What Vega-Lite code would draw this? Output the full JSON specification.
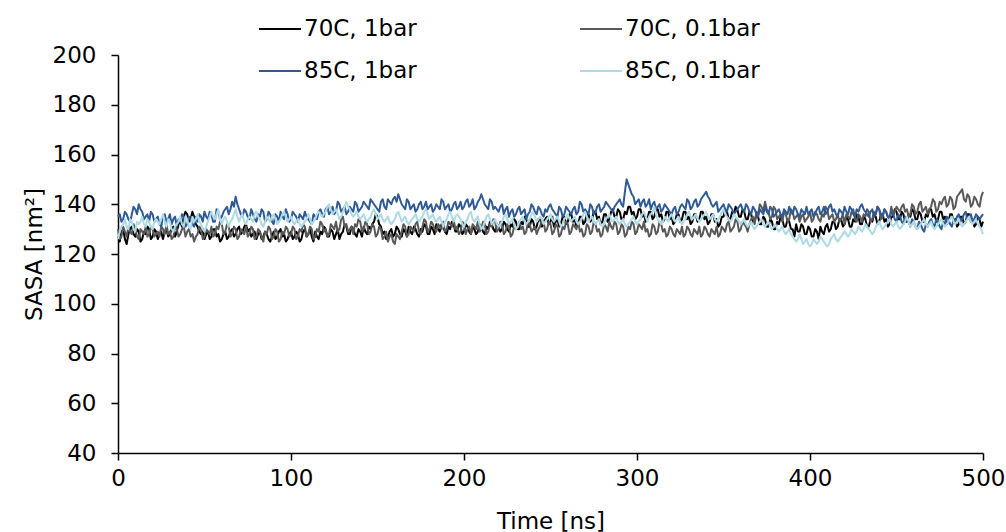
{
"$schema":"https://vega.github.io/schema/vega-lite/v6.json",
"width":865,"height":398,
"autosize":{"type":"none"},
"padding":{"left":118,"top":55,"right":23,"bottom":79},
"background":"white",
"config":{"view":{"stroke":null},"font":"DejaVu Sans",
"axis":{"labelFont":"DejaVu Sans","titleFont":"DejaVu Sans","labelFontSize":23,"titleFontSize":23,"labelColor":"#000","titleColor":"#000","titleFontWeight":"normal","domainColor":"#000","tickColor":"#000","grid":false,"tickSize":7,"domainWidth":1.5,"tickWidth":1.5,"labelFlush":false}},
"datasets":{
"a":[{"t":0,"v":127},{"t":2,"v":129},{"t":4,"v":126},{"t":6,"v":128},{"t":8,"v":131},{"t":10,"v":127},{"t":12,"v":129},{"t":14,"v":126},{"t":16,"v":128},{"t":18,"v":130},
{"t":20,"v":127},{"t":22,"v":129},{"t":24,"v":128},{"t":26,"v":126},{"t":28,"v":130},{"t":30,"v":128},{"t":32,"v":131},{"t":34,"v":129},{"t":36,"v":133},{"t":38,"v":135},
{"t":40,"v":136},{"t":42,"v":134},{"t":44,"v":135},{"t":46,"v":131},{"t":48,"v":128},{"t":50,"v":126},{"t":52,"v":129},{"t":54,"v":127},{"t":56,"v":130},{"t":58,"v":128},
{"t":60,"v":126},{"t":62,"v":129},{"t":64,"v":127},{"t":66,"v":130},{"t":68,"v":128},{"t":70,"v":131},{"t":72,"v":129},{"t":74,"v":132},{"t":76,"v":130},{"t":78,"v":128},
{"t":80,"v":126},{"t":82,"v":129},{"t":84,"v":127},{"t":86,"v":128},{"t":88,"v":125},{"t":90,"v":129},{"t":92,"v":127},{"t":94,"v":130},{"t":96,"v":128},{"t":98,"v":126},
{"t":100,"v":129},{"t":102,"v":127},{"t":104,"v":128},{"t":106,"v":126},{"t":108,"v":130},{"t":110,"v":128},{"t":112,"v":127},{"t":114,"v":129},{"t":116,"v":126},{"t":118,"v":128},
{"t":120,"v":130},{"t":122,"v":127},{"t":124,"v":129},{"t":126,"v":128},{"t":128,"v":126},{"t":130,"v":129},{"t":132,"v":131},{"t":134,"v":128},{"t":136,"v":130},{"t":138,"v":127},
{"t":140,"v":129},{"t":142,"v":131},{"t":144,"v":128},{"t":146,"v":130},{"t":148,"v":133},{"t":150,"v":135},{"t":152,"v":131},{"t":154,"v":129},{"t":156,"v":127},{"t":158,"v":130},
{"t":160,"v":128},{"t":162,"v":130},{"t":164,"v":127},{"t":166,"v":129},{"t":168,"v":131},{"t":170,"v":128},{"t":172,"v":130},{"t":174,"v":127},{"t":176,"v":129},{"t":178,"v":131},
{"t":180,"v":128},{"t":182,"v":130},{"t":184,"v":132},{"t":186,"v":129},{"t":188,"v":131},{"t":190,"v":128},{"t":192,"v":130},{"t":194,"v":132},{"t":196,"v":129},{"t":198,"v":131},
{"t":200,"v":129},{"t":202,"v":131},{"t":204,"v":128},{"t":206,"v":130},{"t":208,"v":129},{"t":210,"v":131},{"t":212,"v":128},{"t":214,"v":130},{"t":216,"v":132},{"t":218,"v":129},
{"t":220,"v":131},{"t":222,"v":130},{"t":224,"v":132},{"t":226,"v":129},{"t":228,"v":131},{"t":230,"v":133},{"t":232,"v":130},{"t":234,"v":132},{"t":236,"v":134},{"t":238,"v":131},
{"t":240,"v":133},{"t":242,"v":131},{"t":244,"v":134},{"t":246,"v":132},{"t":248,"v":135},{"t":250,"v":133},{"t":252,"v":131},{"t":254,"v":134},{"t":256,"v":132},{"t":258,"v":135},
{"t":260,"v":133},{"t":262,"v":136},{"t":264,"v":134},{"t":266,"v":132},{"t":268,"v":135},{"t":270,"v":133},{"t":272,"v":136},{"t":274,"v":134},{"t":276,"v":137},{"t":278,"v":135},
{"t":280,"v":133},{"t":282,"v":136},{"t":284,"v":134},{"t":286,"v":138},{"t":288,"v":135},{"t":290,"v":137},{"t":292,"v":134},{"t":294,"v":136},{"t":296,"v":139},{"t":298,"v":137},
{"t":300,"v":135},{"t":302,"v":138},{"t":304,"v":136},{"t":306,"v":134},{"t":308,"v":137},{"t":310,"v":135},{"t":312,"v":138},{"t":314,"v":136},{"t":316,"v":134},{"t":318,"v":137},
{"t":320,"v":135},{"t":322,"v":133},{"t":324,"v":136},{"t":326,"v":134},{"t":328,"v":137},{"t":330,"v":135},{"t":332,"v":133},{"t":334,"v":136},{"t":336,"v":134},{"t":338,"v":137},
{"t":340,"v":135},{"t":342,"v":133},{"t":344,"v":136},{"t":346,"v":134},{"t":348,"v":132},{"t":350,"v":135},{"t":352,"v":137},{"t":354,"v":134},{"t":356,"v":136},{"t":358,"v":138},
{"t":360,"v":135},{"t":362,"v":137},{"t":364,"v":134},{"t":366,"v":136},{"t":368,"v":133},{"t":370,"v":135},{"t":372,"v":132},{"t":374,"v":134},{"t":376,"v":131},{"t":378,"v":133},
{"t":380,"v":130},{"t":382,"v":132},{"t":384,"v":134},{"t":386,"v":131},{"t":388,"v":133},{"t":390,"v":130},{"t":392,"v":132},{"t":394,"v":129},{"t":396,"v":131},{"t":398,"v":128},
{"t":400,"v":130},{"t":402,"v":127},{"t":404,"v":129},{"t":406,"v":131},{"t":408,"v":128},{"t":410,"v":132},{"t":412,"v":130},{"t":414,"v":133},{"t":416,"v":131},{"t":418,"v":134},
{"t":420,"v":132},{"t":422,"v":134},{"t":424,"v":131},{"t":426,"v":133},{"t":428,"v":135},{"t":430,"v":132},{"t":432,"v":134},{"t":434,"v":131},{"t":436,"v":133},{"t":438,"v":135},
{"t":440,"v":133},{"t":442,"v":136},{"t":444,"v":134},{"t":446,"v":132},{"t":448,"v":135},{"t":450,"v":137},{"t":452,"v":134},{"t":454,"v":136},{"t":456,"v":133},{"t":458,"v":135},
{"t":460,"v":137},{"t":462,"v":134},{"t":464,"v":136},{"t":466,"v":133},{"t":468,"v":135},{"t":470,"v":138},{"t":472,"v":136},{"t":474,"v":134},{"t":476,"v":137},{"t":478,"v":135},
{"t":480,"v":133},{"t":482,"v":136},{"t":484,"v":134},{"t":486,"v":132},{"t":488,"v":135},{"t":490,"v":133},{"t":492,"v":136},{"t":494,"v":134},{"t":496,"v":132},{"t":498,"v":134},{"t":500,"v":133},
{"t":1,"v":125},{"t":3,"v":130},{"t":5,"v":124},{"t":7,"v":130},{"t":9,"v":128},{"t":11,"v":130},{"t":13,"v":125},{"t":15,"v":129},{"t":17,"v":131},{"t":19,"v":126},
{"t":21,"v":130},{"t":23,"v":126},{"t":25,"v":129},{"t":27,"v":129},{"t":29,"v":127},{"t":31,"v":130},{"t":33,"v":127},{"t":35,"v":132},{"t":37,"v":131},{"t":39,"v":137},
{"t":41,"v":133},{"t":43,"v":137},{"t":45,"v":132},{"t":47,"v":129},{"t":49,"v":130},{"t":51,"v":128},{"t":53,"v":126},{"t":55,"v":130},{"t":57,"v":127},{"t":59,"v":125},
{"t":61,"v":128},{"t":63,"v":126},{"t":65,"v":129},{"t":67,"v":127},{"t":69,"v":130},{"t":71,"v":128},{"t":73,"v":131},{"t":75,"v":129},{"t":77,"v":127},{"t":79,"v":129},
{"t":81,"v":128},{"t":83,"v":126},{"t":85,"v":129},{"t":87,"v":126},{"t":89,"v":127},{"t":91,"v":126},{"t":93,"v":129},{"t":95,"v":127},{"t":97,"v":125},{"t":99,"v":128},
{"t":101,"v":126},{"t":103,"v":129},{"t":105,"v":125},{"t":107,"v":129},{"t":109,"v":127},{"t":111,"v":130},{"t":113,"v":125},{"t":115,"v":127},{"t":117,"v":129},{"t":119,"v":131},
{"t":121,"v":127},{"t":123,"v":130},{"t":125,"v":126},{"t":127,"v":130},{"t":129,"v":128},{"t":131,"v":132},{"t":133,"v":128},{"t":135,"v":131},{"t":137,"v":128},{"t":139,"v":130},
{"t":141,"v":127},{"t":143,"v":129},{"t":145,"v":131},{"t":147,"v":132},{"t":149,"v":136},{"t":151,"v":132},{"t":153,"v":128},{"t":155,"v":126},{"t":157,"v":129},{"t":159,"v":127},
{"t":161,"v":131},{"t":163,"v":128},{"t":165,"v":130},{"t":167,"v":127},{"t":169,"v":129},{"t":171,"v":131},{"t":173,"v":128},{"t":175,"v":130},{"t":177,"v":132},{"t":179,"v":128},
{"t":181,"v":131},{"t":183,"v":128},{"t":185,"v":130},{"t":187,"v":132},{"t":189,"v":129},{"t":191,"v":131},{"t":193,"v":133},{"t":195,"v":129},{"t":197,"v":132},{"t":199,"v":128},
{"t":201,"v":132},{"t":203,"v":129},{"t":205,"v":131},{"t":207,"v":128},{"t":209,"v":132},{"t":211,"v":129},{"t":213,"v":131},{"t":215,"v":133},{"t":217,"v":130},{"t":219,"v":132},
{"t":221,"v":129},{"t":223,"v":133},{"t":225,"v":130},{"t":227,"v":132},{"t":229,"v":134},{"t":231,"v":130},{"t":233,"v":133},{"t":235,"v":135},{"t":237,"v":131},{"t":239,"v":134},
{"t":241,"v":130},{"t":243,"v":134},{"t":245,"v":131},{"t":247,"v":134},{"t":249,"v":132},{"t":251,"v":135},{"t":253,"v":133},{"t":255,"v":131},{"t":257,"v":135},{"t":259,"v":132},
{"t":261,"v":136},{"t":263,"v":133},{"t":265,"v":131},{"t":267,"v":135},{"t":269,"v":132},{"t":271,"v":136},{"t":273,"v":133},{"t":275,"v":137},{"t":277,"v":134},{"t":279,"v":132},
{"t":281,"v":136},{"t":283,"v":133},{"t":285,"v":137},{"t":287,"v":135},{"t":289,"v":138},{"t":291,"v":134},{"t":293,"v":137},{"t":295,"v":139},{"t":297,"v":136},{"t":299,"v":134},
{"t":301,"v":138},{"t":303,"v":135},{"t":305,"v":133},{"t":307,"v":137},{"t":309,"v":134},{"t":311,"v":138},{"t":313,"v":135},{"t":315,"v":133},{"t":317,"v":137},{"t":319,"v":134},
{"t":321,"v":132},{"t":323,"v":136},{"t":325,"v":133},{"t":327,"v":137},{"t":329,"v":134},{"t":331,"v":132},{"t":333,"v":136},{"t":335,"v":133},{"t":337,"v":137},{"t":339,"v":134},
{"t":341,"v":132},{"t":343,"v":136},{"t":345,"v":133},{"t":347,"v":131},{"t":349,"v":135},{"t":351,"v":138},{"t":353,"v":134},{"t":355,"v":137},{"t":357,"v":139},{"t":359,"v":135},
{"t":361,"v":138},{"t":363,"v":134},{"t":365,"v":137},{"t":367,"v":133},{"t":369,"v":136},{"t":371,"v":132},{"t":373,"v":135},{"t":375,"v":131},{"t":377,"v":134},{"t":379,"v":130},
{"t":381,"v":133},{"t":383,"v":135},{"t":385,"v":131},{"t":387,"v":134},{"t":389,"v":130},{"t":391,"v":127},{"t":393,"v":129},{"t":395,"v":132},{"t":397,"v":128},{"t":399,"v":131},
{"t":401,"v":127},{"t":403,"v":130},{"t":405,"v":126},{"t":407,"v":129},{"t":409,"v":131},{"t":411,"v":129},{"t":413,"v":133},{"t":415,"v":130},{"t":417,"v":134},{"t":419,"v":131},
{"t":421,"v":135},{"t":423,"v":131},{"t":425,"v":134},{"t":427,"v":136},{"t":429,"v":132},{"t":431,"v":135},{"t":433,"v":131},{"t":435,"v":134},{"t":437,"v":136},{"t":439,"v":132},
{"t":441,"v":136},{"t":443,"v":133},{"t":445,"v":131},{"t":447,"v":135},{"t":449,"v":138},{"t":451,"v":134},{"t":453,"v":137},{"t":455,"v":133},{"t":457,"v":136},{"t":459,"v":138},
{"t":461,"v":134},{"t":463,"v":137},{"t":465,"v":133},{"t":467,"v":136},{"t":469,"v":138},{"t":471,"v":135},{"t":473,"v":133},{"t":475,"v":137},{"t":477,"v":134},{"t":479,"v":132},
{"t":481,"v":136},{"t":483,"v":133},{"t":485,"v":131},{"t":487,"v":135},{"t":489,"v":132},{"t":491,"v":136},{"t":493,"v":133},{"t":495,"v":131},{"t":497,"v":135},{"t":499,"v":131}],
"b":[{"t":0,"v":130},{"t":2,"v":127},{"t":4,"v":129},{"t":6,"v":131},{"t":8,"v":128},{"t":10,"v":130},{"t":12,"v":126},{"t":14,"v":129},{"t":16,"v":131},{"t":18,"v":128},
{"t":20,"v":130},{"t":22,"v":128},{"t":24,"v":127},{"t":26,"v":130},{"t":28,"v":132},{"t":30,"v":129},{"t":32,"v":127},{"t":34,"v":130},{"t":36,"v":128},{"t":38,"v":131},
{"t":40,"v":129},{"t":42,"v":127},{"t":44,"v":125},{"t":46,"v":128},{"t":48,"v":130},{"t":50,"v":127},{"t":52,"v":129},{"t":54,"v":131},{"t":56,"v":128},{"t":58,"v":130},
{"t":60,"v":132},{"t":62,"v":129},{"t":64,"v":131},{"t":66,"v":128},{"t":68,"v":130},{"t":70,"v":127},{"t":72,"v":129},{"t":74,"v":131},{"t":76,"v":128},{"t":78,"v":130},
{"t":80,"v":127},{"t":82,"v":129},{"t":84,"v":125},{"t":86,"v":128},{"t":88,"v":130},{"t":90,"v":127},{"t":92,"v":129},{"t":94,"v":126},{"t":96,"v":128},{"t":98,"v":130},
{"t":100,"v":128},{"t":102,"v":130},{"t":104,"v":127},{"t":106,"v":129},{"t":108,"v":131},{"t":110,"v":128},{"t":112,"v":130},{"t":114,"v":127},{"t":116,"v":129},{"t":118,"v":132},
{"t":120,"v":130},{"t":122,"v":128},{"t":124,"v":131},{"t":126,"v":133},{"t":128,"v":130},{"t":130,"v":135},{"t":132,"v":132},{"t":134,"v":130},{"t":136,"v":128},{"t":138,"v":131},
{"t":140,"v":133},{"t":142,"v":130},{"t":144,"v":132},{"t":146,"v":129},{"t":148,"v":131},{"t":150,"v":128},{"t":152,"v":130},{"t":154,"v":127},{"t":156,"v":125},{"t":158,"v":128},
{"t":160,"v":124},{"t":162,"v":127},{"t":164,"v":129},{"t":166,"v":131},{"t":168,"v":128},{"t":170,"v":130},{"t":172,"v":132},{"t":174,"v":129},{"t":176,"v":131},{"t":178,"v":133},
{"t":180,"v":130},{"t":182,"v":132},{"t":184,"v":129},{"t":186,"v":131},{"t":188,"v":133},{"t":190,"v":130},{"t":192,"v":132},{"t":194,"v":134},{"t":196,"v":131},{"t":198,"v":129},
{"t":200,"v":132},{"t":202,"v":130},{"t":204,"v":128},{"t":206,"v":131},{"t":208,"v":133},{"t":210,"v":130},{"t":212,"v":132},{"t":214,"v":129},{"t":216,"v":131},{"t":218,"v":133},
{"t":220,"v":130},{"t":222,"v":132},{"t":224,"v":129},{"t":226,"v":131},{"t":228,"v":128},{"t":230,"v":130},{"t":232,"v":133},{"t":234,"v":131},{"t":236,"v":129},{"t":238,"v":132},
{"t":240,"v":130},{"t":242,"v":128},{"t":244,"v":131},{"t":246,"v":133},{"t":248,"v":130},{"t":250,"v":132},{"t":252,"v":129},{"t":254,"v":131},{"t":256,"v":128},{"t":258,"v":130},
{"t":260,"v":132},{"t":262,"v":129},{"t":264,"v":131},{"t":266,"v":133},{"t":268,"v":130},{"t":270,"v":128},{"t":272,"v":131},{"t":274,"v":129},{"t":276,"v":132},{"t":278,"v":130},
{"t":280,"v":128},{"t":282,"v":131},{"t":284,"v":133},{"t":286,"v":130},{"t":288,"v":132},{"t":290,"v":129},{"t":292,"v":131},{"t":294,"v":128},{"t":296,"v":130},{"t":298,"v":132},
{"t":300,"v":129},{"t":302,"v":131},{"t":304,"v":133},{"t":306,"v":130},{"t":308,"v":128},{"t":310,"v":131},{"t":312,"v":129},{"t":314,"v":132},{"t":316,"v":130},{"t":318,"v":128},
{"t":320,"v":130},{"t":322,"v":127},{"t":324,"v":129},{"t":326,"v":131},{"t":328,"v":128},{"t":330,"v":130},{"t":332,"v":127},{"t":334,"v":129},{"t":336,"v":131},{"t":338,"v":128},
{"t":340,"v":130},{"t":342,"v":127},{"t":344,"v":129},{"t":346,"v":131},{"t":348,"v":128},{"t":350,"v":130},{"t":352,"v":132},{"t":354,"v":129},{"t":356,"v":131},{"t":358,"v":133},
{"t":360,"v":130},{"t":362,"v":132},{"t":364,"v":129},{"t":366,"v":134},{"t":368,"v":132},{"t":370,"v":136},{"t":372,"v":139},{"t":374,"v":141},{"t":376,"v":137},{"t":378,"v":135},
{"t":380,"v":138},{"t":382,"v":135},{"t":384,"v":133},{"t":386,"v":136},{"t":388,"v":134},{"t":390,"v":137},{"t":392,"v":135},{"t":394,"v":133},{"t":396,"v":136},{"t":398,"v":134},
{"t":400,"v":137},{"t":402,"v":134},{"t":404,"v":136},{"t":406,"v":133},{"t":408,"v":135},{"t":410,"v":138},{"t":412,"v":135},{"t":414,"v":133},{"t":416,"v":136},{"t":418,"v":134},
{"t":420,"v":132},{"t":422,"v":135},{"t":424,"v":137},{"t":426,"v":134},{"t":428,"v":136},{"t":430,"v":133},{"t":432,"v":135},{"t":434,"v":137},{"t":436,"v":134},{"t":438,"v":136},
{"t":440,"v":138},{"t":442,"v":135},{"t":444,"v":137},{"t":446,"v":134},{"t":448,"v":136},{"t":450,"v":139},{"t":452,"v":137},{"t":454,"v":140},{"t":456,"v":138},{"t":458,"v":136},
{"t":460,"v":139},{"t":462,"v":137},{"t":464,"v":141},{"t":466,"v":138},{"t":468,"v":136},{"t":470,"v":139},{"t":472,"v":141},{"t":474,"v":138},{"t":476,"v":140},{"t":478,"v":143},
{"t":480,"v":140},{"t":482,"v":142},{"t":484,"v":139},{"t":486,"v":144},{"t":488,"v":146},{"t":490,"v":141},{"t":492,"v":143},{"t":494,"v":140},{"t":496,"v":142},{"t":498,"v":139},{"t":500,"v":145},
{"t":1,"v":126},{"t":3,"v":131},{"t":5,"v":127},{"t":7,"v":129},{"t":9,"v":132},{"t":11,"v":127},{"t":13,"v":130},{"t":15,"v":128},{"t":17,"v":127},{"t":19,"v":131},
{"t":21,"v":127},{"t":23,"v":129},{"t":25,"v":131},{"t":27,"v":128},{"t":29,"v":128},{"t":31,"v":126},{"t":33,"v":131},{"t":35,"v":127},{"t":37,"v":130},{"t":39,"v":127},
{"t":41,"v":130},{"t":43,"v":128},{"t":45,"v":127},{"t":47,"v":131},{"t":49,"v":126},{"t":51,"v":130},{"t":53,"v":128},{"t":55,"v":127},{"t":57,"v":131},{"t":59,"v":133},
{"t":61,"v":128},{"t":63,"v":132},{"t":65,"v":127},{"t":67,"v":131},{"t":69,"v":126},{"t":71,"v":130},{"t":73,"v":128},{"t":75,"v":127},{"t":77,"v":131},{"t":79,"v":126},
{"t":81,"v":130},{"t":83,"v":127},{"t":85,"v":129},{"t":87,"v":131},{"t":89,"v":126},{"t":91,"v":130},{"t":93,"v":125},{"t":95,"v":129},{"t":97,"v":131},{"t":99,"v":127},
{"t":101,"v":131},{"t":103,"v":126},{"t":105,"v":130},{"t":107,"v":132},{"t":109,"v":127},{"t":111,"v":131},{"t":113,"v":126},{"t":115,"v":130},{"t":117,"v":133},{"t":119,"v":129},
{"t":121,"v":127},{"t":123,"v":132},{"t":125,"v":130},{"t":127,"v":129},{"t":129,"v":134},{"t":131,"v":131},{"t":133,"v":129},{"t":135,"v":131},{"t":137,"v":132},{"t":139,"v":134},
{"t":141,"v":129},{"t":143,"v":133},{"t":145,"v":128},{"t":147,"v":132},{"t":149,"v":127},{"t":151,"v":131},{"t":153,"v":126},{"t":155,"v":129},{"t":157,"v":127},{"t":159,"v":125},
{"t":161,"v":128},{"t":163,"v":126},{"t":165,"v":132},{"t":167,"v":127},{"t":169,"v":131},{"t":171,"v":129},{"t":173,"v":133},{"t":175,"v":128},{"t":177,"v":134},{"t":179,"v":129},
{"t":181,"v":133},{"t":183,"v":130},{"t":185,"v":132},{"t":187,"v":130},{"t":189,"v":129},{"t":191,"v":133},{"t":193,"v":131},{"t":195,"v":130},{"t":197,"v":128},{"t":199,"v":133},
{"t":201,"v":128},{"t":203,"v":131},{"t":205,"v":132},{"t":207,"v":130},{"t":209,"v":129},{"t":211,"v":133},{"t":213,"v":128},{"t":215,"v":132},{"t":217,"v":134},{"t":219,"v":129},
{"t":221,"v":133},{"t":223,"v":128},{"t":225,"v":132},{"t":227,"v":127},{"t":229,"v":131},{"t":231,"v":131},{"t":233,"v":130},{"t":235,"v":128},{"t":237,"v":133},{"t":239,"v":129},
{"t":241,"v":131},{"t":243,"v":130},{"t":245,"v":134},{"t":247,"v":129},{"t":249,"v":133},{"t":251,"v":128},{"t":253,"v":132},{"t":255,"v":127},{"t":257,"v":131},{"t":259,"v":133},
{"t":261,"v":128},{"t":263,"v":132},{"t":265,"v":130},{"t":267,"v":129},{"t":269,"v":127},{"t":271,"v":132},{"t":273,"v":128},{"t":275,"v":133},{"t":277,"v":129},{"t":279,"v":127},
{"t":281,"v":132},{"t":283,"v":129},{"t":285,"v":131},{"t":287,"v":133},{"t":289,"v":128},{"t":291,"v":132},{"t":293,"v":127},{"t":295,"v":131},{"t":297,"v":133},{"t":299,"v":128},
{"t":301,"v":132},{"t":303,"v":130},{"t":305,"v":129},{"t":307,"v":127},{"t":309,"v":132},{"t":311,"v":128},{"t":313,"v":133},{"t":315,"v":129},{"t":317,"v":127},{"t":319,"v":131},
{"t":321,"v":128},{"t":323,"v":130},{"t":325,"v":128},{"t":327,"v":127},{"t":329,"v":131},{"t":331,"v":128},{"t":333,"v":130},{"t":335,"v":128},{"t":337,"v":127},{"t":339,"v":131},
{"t":341,"v":128},{"t":343,"v":130},{"t":345,"v":128},{"t":347,"v":127},{"t":349,"v":131},{"t":351,"v":129},{"t":353,"v":133},{"t":355,"v":130},{"t":357,"v":134},{"t":359,"v":129},
{"t":361,"v":133},{"t":363,"v":131},{"t":365,"v":132},{"t":367,"v":135},{"t":369,"v":137},{"t":371,"v":140},{"t":373,"v":137},{"t":375,"v":138},{"t":377,"v":134},{"t":379,"v":139},
{"t":381,"v":134},{"t":383,"v":136},{"t":385,"v":137},{"t":387,"v":133},{"t":389,"v":138},{"t":391,"v":134},{"t":393,"v":136},{"t":395,"v":135},{"t":397,"v":133},{"t":399,"v":135},
{"t":401,"v":133},{"t":403,"v":137},{"t":405,"v":134},{"t":407,"v":136},{"t":409,"v":139},{"t":411,"v":134},{"t":413,"v":136},{"t":415,"v":134},{"t":417,"v":133},{"t":419,"v":136},
{"t":421,"v":136},{"t":423,"v":134},{"t":425,"v":138},{"t":427,"v":133},{"t":429,"v":135},{"t":431,"v":136},{"t":433,"v":138},{"t":435,"v":133},{"t":437,"v":137},{"t":439,"v":139},
{"t":441,"v":134},{"t":443,"v":138},{"t":445,"v":135},{"t":447,"v":139},{"t":449,"v":137},{"t":451,"v":138},{"t":453,"v":139},{"t":455,"v":137},{"t":457,"v":135},{"t":459,"v":140},
{"t":461,"v":136},{"t":463,"v":140},{"t":465,"v":137},{"t":467,"v":139},{"t":469,"v":138},{"t":471,"v":142},{"t":473,"v":137},{"t":475,"v":141},{"t":477,"v":142},{"t":479,"v":139},
{"t":481,"v":143},{"t":483,"v":138},{"t":485,"v":143},{"t":487,"v":145},{"t":489,"v":142},{"t":491,"v":144},{"t":493,"v":139},{"t":495,"v":143},{"t":497,"v":140},{"t":499,"v":143}],
"c":[{"t":0,"v":135},{"t":2,"v":133},{"t":4,"v":137},{"t":6,"v":134},{"t":8,"v":136},{"t":10,"v":138},{"t":12,"v":140},{"t":14,"v":137},{"t":16,"v":135},{"t":18,"v":133},
{"t":20,"v":136},{"t":22,"v":134},{"t":24,"v":132},{"t":26,"v":135},{"t":28,"v":133},{"t":30,"v":136},{"t":32,"v":134},{"t":34,"v":131},{"t":36,"v":133},{"t":38,"v":135},
{"t":40,"v":132},{"t":42,"v":134},{"t":44,"v":131},{"t":46,"v":133},{"t":48,"v":135},{"t":50,"v":137},{"t":52,"v":134},{"t":54,"v":136},{"t":56,"v":133},{"t":58,"v":137},
{"t":60,"v":135},{"t":62,"v":138},{"t":64,"v":136},{"t":66,"v":141},{"t":68,"v":143},{"t":70,"v":138},{"t":72,"v":135},{"t":74,"v":137},{"t":76,"v":134},{"t":78,"v":136},
{"t":80,"v":133},{"t":82,"v":135},{"t":84,"v":137},{"t":86,"v":134},{"t":88,"v":136},{"t":90,"v":132},{"t":92,"v":135},{"t":94,"v":137},{"t":96,"v":134},{"t":98,"v":136},
{"t":100,"v":134},{"t":102,"v":136},{"t":104,"v":133},{"t":106,"v":135},{"t":108,"v":137},{"t":110,"v":134},{"t":112,"v":132},{"t":114,"v":135},{"t":116,"v":137},{"t":118,"v":136},
{"t":120,"v":138},{"t":122,"v":136},{"t":124,"v":139},{"t":126,"v":137},{"t":128,"v":140},{"t":130,"v":138},{"t":132,"v":136},{"t":134,"v":139},{"t":136,"v":137},{"t":138,"v":140},
{"t":140,"v":138},{"t":142,"v":141},{"t":144,"v":139},{"t":146,"v":142},{"t":148,"v":140},{"t":150,"v":138},{"t":152,"v":141},{"t":154,"v":139},{"t":156,"v":142},{"t":158,"v":140},
{"t":160,"v":143},{"t":162,"v":144},{"t":164,"v":140},{"t":166,"v":138},{"t":168,"v":141},{"t":170,"v":139},{"t":172,"v":137},{"t":174,"v":140},{"t":176,"v":138},{"t":178,"v":141},
{"t":180,"v":139},{"t":182,"v":137},{"t":184,"v":140},{"t":186,"v":138},{"t":188,"v":141},{"t":190,"v":139},{"t":192,"v":137},{"t":194,"v":140},{"t":196,"v":138},{"t":198,"v":141},
{"t":200,"v":139},{"t":202,"v":142},{"t":204,"v":140},{"t":206,"v":138},{"t":208,"v":141},{"t":210,"v":144},{"t":212,"v":140},{"t":214,"v":138},{"t":216,"v":141},{"t":218,"v":139},
{"t":220,"v":137},{"t":222,"v":140},{"t":224,"v":138},{"t":226,"v":135},{"t":228,"v":138},{"t":230,"v":136},{"t":232,"v":139},{"t":234,"v":137},{"t":236,"v":134},{"t":238,"v":137},
{"t":240,"v":139},{"t":242,"v":136},{"t":244,"v":138},{"t":246,"v":135},{"t":248,"v":137},{"t":250,"v":140},{"t":252,"v":137},{"t":254,"v":135},{"t":256,"v":138},{"t":258,"v":136},
{"t":260,"v":138},{"t":262,"v":136},{"t":264,"v":139},{"t":266,"v":137},{"t":268,"v":140},{"t":270,"v":138},{"t":272,"v":136},{"t":274,"v":139},{"t":276,"v":137},{"t":278,"v":140},
{"t":280,"v":138},{"t":282,"v":141},{"t":284,"v":139},{"t":286,"v":137},{"t":288,"v":140},{"t":290,"v":142},{"t":292,"v":139},{"t":294,"v":150},{"t":296,"v":146},{"t":298,"v":143},
{"t":300,"v":141},{"t":302,"v":139},{"t":304,"v":142},{"t":306,"v":140},{"t":308,"v":138},{"t":310,"v":141},{"t":312,"v":139},{"t":314,"v":137},{"t":316,"v":140},{"t":318,"v":138},
{"t":320,"v":136},{"t":322,"v":139},{"t":324,"v":137},{"t":326,"v":140},{"t":328,"v":138},{"t":330,"v":141},{"t":332,"v":139},{"t":334,"v":142},{"t":336,"v":140},{"t":338,"v":143},
{"t":340,"v":145},{"t":342,"v":142},{"t":344,"v":139},{"t":346,"v":141},{"t":348,"v":138},{"t":350,"v":140},{"t":352,"v":137},{"t":354,"v":139},{"t":356,"v":136},{"t":358,"v":138},
{"t":360,"v":140},{"t":362,"v":137},{"t":364,"v":139},{"t":366,"v":136},{"t":368,"v":138},{"t":370,"v":135},{"t":372,"v":137},{"t":374,"v":139},{"t":376,"v":136},{"t":378,"v":138},
{"t":380,"v":136},{"t":382,"v":138},{"t":384,"v":135},{"t":386,"v":137},{"t":388,"v":139},{"t":390,"v":136},{"t":392,"v":138},{"t":394,"v":135},{"t":396,"v":137},{"t":398,"v":139},
{"t":400,"v":137},{"t":402,"v":135},{"t":404,"v":138},{"t":406,"v":136},{"t":408,"v":139},{"t":410,"v":137},{"t":412,"v":140},{"t":414,"v":138},{"t":416,"v":135},{"t":418,"v":137},
{"t":420,"v":139},{"t":422,"v":136},{"t":424,"v":138},{"t":426,"v":135},{"t":428,"v":137},{"t":430,"v":140},{"t":432,"v":137},{"t":434,"v":135},{"t":436,"v":138},{"t":438,"v":136},
{"t":440,"v":138},{"t":442,"v":135},{"t":444,"v":137},{"t":446,"v":134},{"t":448,"v":136},{"t":450,"v":133},{"t":452,"v":135},{"t":454,"v":132},{"t":456,"v":134},{"t":458,"v":131},
{"t":460,"v":133},{"t":462,"v":130},{"t":464,"v":132},{"t":466,"v":129},{"t":468,"v":131},{"t":470,"v":134},{"t":472,"v":131},{"t":474,"v":133},{"t":476,"v":130},{"t":478,"v":132},
{"t":480,"v":134},{"t":482,"v":131},{"t":484,"v":133},{"t":486,"v":136},{"t":488,"v":134},{"t":490,"v":137},{"t":492,"v":135},{"t":494,"v":133},{"t":496,"v":136},{"t":498,"v":134},{"t":500,"v":136},
{"t":1,"v":136},{"t":3,"v":134},{"t":5,"v":136},{"t":7,"v":133},{"t":9,"v":139},{"t":11,"v":136},{"t":13,"v":138},{"t":15,"v":134},{"t":17,"v":136},{"t":19,"v":137},
{"t":21,"v":133},{"t":23,"v":135},{"t":25,"v":131},{"t":27,"v":136},{"t":29,"v":134},{"t":31,"v":132},{"t":33,"v":135},{"t":35,"v":134},{"t":37,"v":136},{"t":39,"v":131},
{"t":41,"v":135},{"t":43,"v":132},{"t":45,"v":135},{"t":47,"v":136},{"t":49,"v":133},{"t":51,"v":135},{"t":53,"v":137},{"t":55,"v":133},{"t":57,"v":138},{"t":59,"v":134},
{"t":61,"v":137},{"t":63,"v":139},{"t":65,"v":138},{"t":67,"v":139},{"t":69,"v":140},{"t":71,"v":136},{"t":73,"v":138},{"t":75,"v":135},{"t":77,"v":138},{"t":79,"v":134},
{"t":81,"v":136},{"t":83,"v":138},{"t":85,"v":133},{"t":87,"v":137},{"t":89,"v":133},{"t":91,"v":136},{"t":93,"v":133},{"t":95,"v":135},{"t":97,"v":138},{"t":99,"v":133},
{"t":101,"v":137},{"t":103,"v":135},{"t":105,"v":136},{"t":107,"v":134},{"t":109,"v":135},{"t":111,"v":133},{"t":113,"v":136},{"t":115,"v":134},{"t":117,"v":138},{"t":119,"v":135},
{"t":121,"v":139},{"t":123,"v":137},{"t":125,"v":136},{"t":127,"v":141},{"t":129,"v":137},{"t":131,"v":139},{"t":133,"v":137},{"t":135,"v":138},{"t":137,"v":141},{"t":139,"v":137},
{"t":141,"v":139},{"t":143,"v":140},{"t":145,"v":138},{"t":147,"v":141},{"t":149,"v":139},{"t":151,"v":137},{"t":153,"v":142},{"t":155,"v":138},{"t":157,"v":141},{"t":159,"v":142},
{"t":161,"v":141},{"t":163,"v":142},{"t":165,"v":139},{"t":167,"v":142},{"t":169,"v":138},{"t":171,"v":140},{"t":173,"v":138},{"t":175,"v":141},{"t":177,"v":139},{"t":179,"v":138},
{"t":181,"v":140},{"t":183,"v":138},{"t":185,"v":139},{"t":187,"v":142},{"t":189,"v":138},{"t":191,"v":140},{"t":193,"v":138},{"t":195,"v":141},{"t":197,"v":139},{"t":199,"v":138},
{"t":201,"v":141},{"t":203,"v":139},{"t":205,"v":142},{"t":207,"v":139},{"t":209,"v":142},{"t":211,"v":142},{"t":213,"v":139},{"t":215,"v":142},{"t":217,"v":138},{"t":219,"v":138},
{"t":221,"v":139},{"t":223,"v":136},{"t":225,"v":139},{"t":227,"v":137},{"t":229,"v":135},{"t":231,"v":138},{"t":233,"v":136},{"t":235,"v":138},{"t":237,"v":136},{"t":239,"v":140},
{"t":241,"v":137},{"t":243,"v":139},{"t":245,"v":136},{"t":247,"v":138},{"t":249,"v":139},{"t":251,"v":138},{"t":253,"v":136},{"t":255,"v":139},{"t":257,"v":135},{"t":259,"v":139},
{"t":261,"v":137},{"t":263,"v":138},{"t":265,"v":136},{"t":267,"v":141},{"t":269,"v":137},{"t":271,"v":137},{"t":273,"v":140},{"t":275,"v":136},{"t":277,"v":139},{"t":279,"v":137},
{"t":281,"v":139},{"t":283,"v":140},{"t":285,"v":138},{"t":287,"v":139},{"t":289,"v":141},{"t":291,"v":140},{"t":293,"v":145},{"t":295,"v":148},{"t":297,"v":144},{"t":299,"v":140},
{"t":301,"v":142},{"t":303,"v":141},{"t":305,"v":139},{"t":307,"v":142},{"t":309,"v":140},{"t":311,"v":138},{"t":313,"v":140},{"t":315,"v":138},{"t":317,"v":139},{"t":319,"v":137},
{"t":321,"v":138},{"t":323,"v":136},{"t":325,"v":139},{"t":327,"v":139},{"t":329,"v":142},{"t":331,"v":138},{"t":333,"v":141},{"t":335,"v":139},{"t":337,"v":142},{"t":339,"v":144},
{"t":341,"v":143},{"t":343,"v":140},{"t":345,"v":140},{"t":347,"v":137},{"t":349,"v":139},{"t":351,"v":138},{"t":353,"v":140},{"t":355,"v":138},{"t":357,"v":137},{"t":359,"v":139},
{"t":361,"v":138},{"t":363,"v":140},{"t":365,"v":137},{"t":367,"v":139},{"t":369,"v":136},{"t":371,"v":138},{"t":373,"v":136},{"t":375,"v":137},{"t":377,"v":139},{"t":379,"v":135},
{"t":381,"v":137},{"t":383,"v":136},{"t":385,"v":138},{"t":387,"v":136},{"t":389,"v":137},{"t":391,"v":139},{"t":393,"v":136},{"t":395,"v":138},{"t":397,"v":136},{"t":399,"v":136},
{"t":401,"v":138},{"t":403,"v":136},{"t":405,"v":139},{"t":407,"v":137},{"t":409,"v":136},{"t":411,"v":139},{"t":413,"v":137},{"t":415,"v":136},{"t":417,"v":138},{"t":419,"v":136},
{"t":421,"v":137},{"t":423,"v":139},{"t":425,"v":136},{"t":427,"v":138},{"t":429,"v":139},{"t":431,"v":138},{"t":433,"v":136},{"t":435,"v":137},{"t":437,"v":135},{"t":439,"v":139},
{"t":441,"v":136},{"t":443,"v":138},{"t":445,"v":135},{"t":447,"v":137},{"t":449,"v":134},{"t":451,"v":136},{"t":453,"v":133},{"t":455,"v":135},{"t":457,"v":133},{"t":459,"v":134},
{"t":461,"v":131},{"t":463,"v":133},{"t":465,"v":130},{"t":467,"v":132},{"t":469,"v":133},{"t":471,"v":132},{"t":473,"v":134},{"t":475,"v":131},{"t":477,"v":133},{"t":479,"v":135},
{"t":481,"v":132},{"t":483,"v":134},{"t":485,"v":135},{"t":487,"v":133},{"t":489,"v":136},{"t":491,"v":134},{"t":493,"v":136},{"t":495,"v":134},{"t":497,"v":135},{"t":499,"v":135}],
"d":[{"t":0,"v":126},{"t":2,"v":131},{"t":4,"v":134},{"t":6,"v":130},{"t":8,"v":133},{"t":10,"v":129},{"t":12,"v":132},{"t":14,"v":135},{"t":16,"v":131},{"t":18,"v":133},
{"t":20,"v":130},{"t":22,"v":134},{"t":24,"v":132},{"t":26,"v":136},{"t":28,"v":131},{"t":30,"v":133},{"t":32,"v":129},{"t":34,"v":132},{"t":36,"v":135},{"t":38,"v":131},
{"t":40,"v":134},{"t":42,"v":130},{"t":44,"v":133},{"t":46,"v":136},{"t":48,"v":132},{"t":50,"v":129},{"t":52,"v":133},{"t":54,"v":137},{"t":56,"v":134},{"t":58,"v":138},
{"t":60,"v":132},{"t":62,"v":135},{"t":64,"v":131},{"t":66,"v":134},{"t":68,"v":138},{"t":70,"v":133},{"t":72,"v":136},{"t":74,"v":132},{"t":76,"v":135},{"t":78,"v":133},
{"t":80,"v":137},{"t":82,"v":134},{"t":84,"v":131},{"t":86,"v":135},{"t":88,"v":133},{"t":90,"v":136},{"t":92,"v":132},{"t":94,"v":134},{"t":96,"v":137},{"t":98,"v":133},
{"t":100,"v":135},{"t":102,"v":132},{"t":104,"v":134},{"t":106,"v":131},{"t":108,"v":133},{"t":110,"v":136},{"t":112,"v":132},{"t":114,"v":134},{"t":116,"v":137},{"t":118,"v":135},
{"t":120,"v":137},{"t":122,"v":140},{"t":124,"v":136},{"t":126,"v":138},{"t":128,"v":134},{"t":130,"v":137},{"t":132,"v":141},{"t":134,"v":138},{"t":136,"v":135},{"t":138,"v":137},
{"t":140,"v":134},{"t":142,"v":136},{"t":144,"v":133},{"t":146,"v":135},{"t":148,"v":138},{"t":150,"v":134},{"t":152,"v":136},{"t":154,"v":133},{"t":156,"v":135},{"t":158,"v":132},
{"t":160,"v":134},{"t":162,"v":137},{"t":164,"v":133},{"t":166,"v":135},{"t":168,"v":132},{"t":170,"v":134},{"t":172,"v":136},{"t":174,"v":133},{"t":176,"v":135},{"t":178,"v":138},
{"t":180,"v":134},{"t":182,"v":136},{"t":184,"v":133},{"t":186,"v":135},{"t":188,"v":131},{"t":190,"v":134},{"t":192,"v":137},{"t":194,"v":133},{"t":196,"v":136},{"t":198,"v":134},
{"t":200,"v":131},{"t":202,"v":134},{"t":204,"v":137},{"t":206,"v":133},{"t":208,"v":135},{"t":210,"v":130},{"t":212,"v":133},{"t":214,"v":136},{"t":216,"v":132},{"t":218,"v":134},
{"t":220,"v":131},{"t":222,"v":133},{"t":224,"v":136},{"t":226,"v":132},{"t":228,"v":134},{"t":230,"v":130},{"t":232,"v":133},{"t":234,"v":135},{"t":236,"v":132},{"t":238,"v":134},
{"t":240,"v":137},{"t":242,"v":133},{"t":244,"v":135},{"t":246,"v":132},{"t":248,"v":134},{"t":250,"v":136},{"t":252,"v":133},{"t":254,"v":135},{"t":256,"v":131},{"t":258,"v":134},
{"t":260,"v":136},{"t":262,"v":133},{"t":264,"v":135},{"t":266,"v":132},{"t":268,"v":134},{"t":270,"v":137},{"t":272,"v":133},{"t":274,"v":135},{"t":276,"v":132},{"t":278,"v":134},
{"t":280,"v":131},{"t":282,"v":134},{"t":284,"v":136},{"t":286,"v":133},{"t":288,"v":135},{"t":290,"v":132},{"t":292,"v":134},{"t":294,"v":131},{"t":296,"v":133},{"t":298,"v":135},
{"t":300,"v":132},{"t":302,"v":134},{"t":304,"v":137},{"t":306,"v":133},{"t":308,"v":136},{"t":310,"v":139},{"t":312,"v":134},{"t":314,"v":132},{"t":316,"v":135},{"t":318,"v":133},
{"t":320,"v":136},{"t":322,"v":133},{"t":324,"v":135},{"t":326,"v":132},{"t":328,"v":134},{"t":330,"v":137},{"t":332,"v":134},{"t":334,"v":136},{"t":336,"v":133},{"t":338,"v":135},
{"t":340,"v":137},{"t":342,"v":134},{"t":344,"v":136},{"t":346,"v":133},{"t":348,"v":135},{"t":350,"v":138},{"t":352,"v":135},{"t":354,"v":133},{"t":356,"v":136},{"t":358,"v":134},
{"t":360,"v":132},{"t":362,"v":134},{"t":364,"v":131},{"t":366,"v":133},{"t":368,"v":130},{"t":370,"v":132},{"t":372,"v":134},{"t":374,"v":131},{"t":376,"v":133},{"t":378,"v":130},
{"t":380,"v":132},{"t":382,"v":129},{"t":384,"v":131},{"t":386,"v":128},{"t":388,"v":130},{"t":390,"v":127},{"t":392,"v":125},{"t":394,"v":128},{"t":396,"v":124},{"t":398,"v":126},
{"t":400,"v":123},{"t":402,"v":126},{"t":404,"v":124},{"t":406,"v":127},{"t":408,"v":125},{"t":410,"v":123},{"t":412,"v":126},{"t":414,"v":128},{"t":416,"v":125},{"t":418,"v":127},
{"t":420,"v":129},{"t":422,"v":127},{"t":424,"v":130},{"t":426,"v":128},{"t":428,"v":131},{"t":430,"v":129},{"t":432,"v":132},{"t":434,"v":130},{"t":436,"v":128},{"t":438,"v":131},
{"t":440,"v":133},{"t":442,"v":130},{"t":444,"v":132},{"t":446,"v":134},{"t":448,"v":131},{"t":450,"v":133},{"t":452,"v":130},{"t":454,"v":132},{"t":456,"v":135},{"t":458,"v":131},
{"t":460,"v":133},{"t":462,"v":130},{"t":464,"v":132},{"t":466,"v":134},{"t":468,"v":131},{"t":470,"v":133},{"t":472,"v":130},{"t":474,"v":132},{"t":476,"v":134},{"t":478,"v":131},
{"t":480,"v":133},{"t":482,"v":135},{"t":484,"v":132},{"t":486,"v":134},{"t":488,"v":131},{"t":490,"v":133},{"t":492,"v":135},{"t":494,"v":132},{"t":496,"v":134},{"t":498,"v":131},{"t":500,"v":128},
{"t":1,"v":129},{"t":3,"v":132},{"t":5,"v":131},{"t":7,"v":134},{"t":9,"v":130},{"t":11,"v":133},{"t":13,"v":133},{"t":15,"v":132},{"t":17,"v":134},{"t":19,"v":131},
{"t":21,"v":133},{"t":23,"v":133},{"t":25,"v":134},{"t":27,"v":133},{"t":29,"v":134},{"t":31,"v":130},{"t":33,"v":131},{"t":35,"v":133},{"t":37,"v":132},{"t":39,"v":135},
{"t":41,"v":131},{"t":43,"v":135},{"t":45,"v":134},{"t":47,"v":133},{"t":49,"v":130},{"t":51,"v":131},{"t":53,"v":135},{"t":55,"v":135},{"t":57,"v":136},{"t":59,"v":134},
{"t":61,"v":134},{"t":63,"v":133},{"t":65,"v":133},{"t":67,"v":136},{"t":69,"v":135},{"t":71,"v":135},{"t":73,"v":133},{"t":75,"v":134},{"t":77,"v":134},{"t":79,"v":136},
{"t":81,"v":135},{"t":83,"v":132},{"t":85,"v":133},{"t":87,"v":134},{"t":89,"v":135},{"t":91,"v":134},{"t":93,"v":133},{"t":95,"v":136},{"t":97,"v":135},{"t":99,"v":134},
{"t":101,"v":133},{"t":103,"v":133},{"t":105,"v":132},{"t":107,"v":132},{"t":109,"v":134},{"t":111,"v":134},{"t":113,"v":133},{"t":115,"v":136},{"t":117,"v":136},{"t":119,"v":136},
{"t":121,"v":139},{"t":123,"v":138},{"t":125,"v":137},{"t":127,"v":136},{"t":129,"v":135},{"t":131,"v":139},{"t":133,"v":139},{"t":135,"v":136},{"t":137,"v":136},{"t":139,"v":135},
{"t":141,"v":135},{"t":143,"v":134},{"t":145,"v":134},{"t":147,"v":137},{"t":149,"v":136},{"t":151,"v":135},{"t":153,"v":134},{"t":155,"v":134},{"t":157,"v":133},{"t":159,"v":133},
{"t":161,"v":136},{"t":163,"v":135},{"t":165,"v":134},{"t":167,"v":133},{"t":169,"v":133},{"t":171,"v":135},{"t":173,"v":134},{"t":175,"v":134},{"t":177,"v":137},{"t":179,"v":136},
{"t":181,"v":135},{"t":183,"v":134},{"t":185,"v":134},{"t":187,"v":133},{"t":189,"v":133},{"t":191,"v":136},{"t":193,"v":135},{"t":195,"v":135},{"t":197,"v":135},{"t":199,"v":132},
{"t":201,"v":133},{"t":203,"v":136},{"t":205,"v":134},{"t":207,"v":134},{"t":209,"v":132},{"t":211,"v":131},{"t":213,"v":135},{"t":215,"v":134},{"t":217,"v":133},{"t":219,"v":132},
{"t":221,"v":132},{"t":223,"v":135},{"t":225,"v":134},{"t":227,"v":133},{"t":229,"v":132},{"t":231,"v":131},{"t":233,"v":134},{"t":235,"v":133},{"t":237,"v":133},{"t":239,"v":136},
{"t":241,"v":135},{"t":243,"v":134},{"t":245,"v":134},{"t":247,"v":133},{"t":249,"v":135},{"t":251,"v":134},{"t":253,"v":134},{"t":255,"v":133},{"t":257,"v":132},{"t":259,"v":135},
{"t":261,"v":134},{"t":263,"v":134},{"t":265,"v":133},{"t":267,"v":133},{"t":269,"v":136},{"t":271,"v":135},{"t":273,"v":134},{"t":275,"v":133},{"t":277,"v":133},{"t":279,"v":132},
{"t":281,"v":132},{"t":283,"v":135},{"t":285,"v":134},{"t":287,"v":134},{"t":289,"v":133},{"t":291,"v":133},{"t":293,"v":132},{"t":295,"v":132},{"t":297,"v":134},{"t":299,"v":133},
{"t":301,"v":133},{"t":303,"v":136},{"t":305,"v":135},{"t":307,"v":135},{"t":309,"v":137},{"t":311,"v":136},{"t":313,"v":133},{"t":315,"v":133},{"t":317,"v":134},{"t":319,"v":135},
{"t":321,"v":134},{"t":323,"v":134},{"t":325,"v":133},{"t":327,"v":133},{"t":329,"v":136},{"t":331,"v":135},{"t":333,"v":135},{"t":335,"v":134},{"t":337,"v":134},{"t":339,"v":136},
{"t":341,"v":135},{"t":343,"v":135},{"t":345,"v":134},{"t":347,"v":134},{"t":349,"v":137},{"t":351,"v":136},{"t":353,"v":134},{"t":355,"v":134},{"t":357,"v":135},{"t":359,"v":133},
{"t":361,"v":133},{"t":363,"v":132},{"t":365,"v":132},{"t":367,"v":131},{"t":369,"v":131},{"t":371,"v":133},{"t":373,"v":132},{"t":375,"v":132},{"t":377,"v":131},{"t":379,"v":131},
{"t":381,"v":130},{"t":383,"v":130},{"t":385,"v":129},{"t":387,"v":129},{"t":389,"v":128},{"t":391,"v":126},{"t":393,"v":126},{"t":395,"v":126},{"t":397,"v":125},{"t":399,"v":124},
{"t":401,"v":124},{"t":403,"v":125},{"t":405,"v":125},{"t":407,"v":126},{"t":409,"v":124},{"t":411,"v":124},{"t":413,"v":127},{"t":415,"v":126},{"t":417,"v":126},{"t":419,"v":128},
{"t":421,"v":128},{"t":423,"v":128},{"t":425,"v":129},{"t":427,"v":129},{"t":429,"v":130},{"t":431,"v":130},{"t":433,"v":131},{"t":435,"v":129},{"t":437,"v":129},{"t":439,"v":132},
{"t":441,"v":131},{"t":443,"v":131},{"t":445,"v":133},{"t":447,"v":132},{"t":449,"v":132},{"t":451,"v":131},{"t":453,"v":131},{"t":455,"v":133},{"t":457,"v":133},{"t":459,"v":132},
{"t":461,"v":131},{"t":463,"v":131},{"t":465,"v":133},{"t":467,"v":132},{"t":469,"v":132},{"t":471,"v":131},{"t":473,"v":131},{"t":475,"v":133},{"t":477,"v":132},{"t":479,"v":132},
{"t":481,"v":134},{"t":483,"v":133},{"t":485,"v":133},{"t":487,"v":132},{"t":489,"v":132},{"t":491,"v":134},{"t":493,"v":133},{"t":495,"v":133},{"t":497,"v":132},{"t":499,"v":130}]
},
"encoding":{
"x":{"field":"t","type":"quantitative","scale":{"domain":[0,500],"nice":false,"zero":false},"axis":{"values":[0,100,200,300,400,500],"title":"Time [ns]","labelPadding":7,"titlePadding":20}},
"y":{"field":"v","type":"quantitative","scale":{"domain":[40,200],"nice":false,"zero":false},"axis":{"values":[40,60,80,100,120,140,160,180,200],"title":"SASA [nm²]","labelPadding":15,"titlePadding":6}}
},
"layer":[
{"data":{"name":"a"},"mark":{"type":"line","strokeWidth":2,"strokeJoin":"round"},
 "encoding":{"color":{"datum":"70C, 1bar","type":"nominal",
  "scale":{"domain":["70C, 1bar","85C, 1bar","70C, 0.1bar","85C, 0.1bar"],"range":["#000000","#2F5A94","#595959","#ADDAE6"]},
  "legend":{"title":null,"orient":"none","legendX":140,"legendY":-48,"columns":2,"columnPadding":159,"rowPadding":8,"symbolType":"stroke","symbolSize":1764,"symbolStrokeWidth":2,"labelFont":"DejaVu Sans","labelFontSize":23,"labelColor":"#000","labelOffset":2,"labelLimit":300}}}},
{"data":{"name":"b"},"mark":{"type":"line","strokeWidth":2,"strokeJoin":"round"},"encoding":{"color":{"datum":"70C, 0.1bar","type":"nominal"}}},
{"data":{"name":"c"},"mark":{"type":"line","strokeWidth":2,"strokeJoin":"round"},"encoding":{"color":{"datum":"85C, 1bar","type":"nominal"}}},
{"data":{"name":"d"},"mark":{"type":"line","strokeWidth":2,"strokeJoin":"round"},"encoding":{"color":{"datum":"85C, 0.1bar","type":"nominal"}}}
]
}
